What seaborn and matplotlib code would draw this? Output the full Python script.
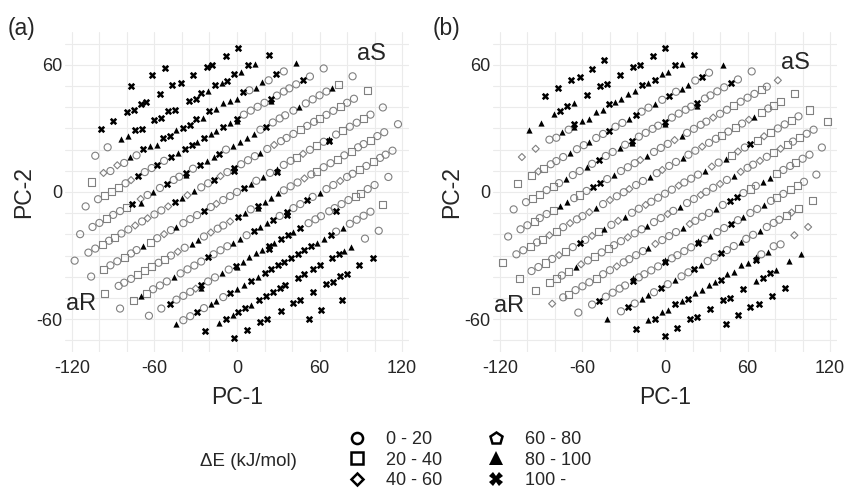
import matplotlib
matplotlib.use("Agg")
import matplotlib.pyplot as plt
from matplotlib.lines import Line2D
import seaborn as sns
import pandas as pd

# energy classes (kJ/mol); one-letter codes used in the de_* strings below
energy_bins = ["0 - 20", "20 - 40", "40 - 60", "60 - 80", "80 - 100", "100 -"]
bin_codes = "osdptx"   # o circle, s square, d diamond, p pentagon, t triangle, x cross

# ---------------- panel (a) ----------------
pc1_a = [
    -77, -62, -52,
    -99, -90, -80, -75, -70, -66, -56, -47, -41, -32, -22, -18, -8, 1,
    -103, -94, -84, -79, -74, -69, -60, -55, -50, -45, -35, -30, -26, -21, -16, -11, -7, -2, 3, 8, 13, 23,
    -106, -97, -92, -87, -82, -78, -73, -68, -63, -58, -54, -49, -44, -39, -34, -30, -25, -20, -15, -10,
    -5, 0, 4, 9, 14, 18, 23, 28, 34, 43,
    -110, -101, -96, -91, -86, -81, -77, -72, -67, -62, -58, -53, -48, -43, -38, -33, -29, -24, -19, -15,
    -10, -5, 0, 0, 5, 10, 15, 20, 25, 25, 29, 34, 38, 43, 48, 53, 63,
    -114, -105, -100, -95, -90, -85, -80, -76, -70, -70, -65, -61, -56, -51, -46, -42, -37, -37, -32, -27,
    -22, -17, -13, -8, -3, 2, 7, 12, 17, 21, 26, 31, 35, 41, 45, 50, 55, 60, 65, 69, 74, 84,
    -118, -108, -103, -98, -93, -89, -84, -79, -74, -69, -65, -60, -55, -50, -45, -40, -36, -31, -26, -21,
    -17, -12, -7, -2, -2, 3, 8, 13, 17, 22, 27, 32, 36, 41, 46, 51, 56, 60, 65, 70, 75, 80, 85, 95,
    -106, -97, -92, -87, -82, -77, -73, -68, -63, -58, -53, -48, -44, -39, -34, -29, -24, -19, -15, -10,
    -5, 0, 5, 10, 14, 19, 24, 29, 29, 34, 39, 43, 48, 53, 58, 63, 67, 67, 72, 77, 82, 87, 92, 97, 106,
    -96, -86, -82, -77, -72, -67, -62, -57, -53, -48, -43, -38, -33, -28, -24, -19, -14, -10, -5, 1,
    6, 10, 15, 15, 20, 25, 30, 34, 39, 44, 49, 54, 58, 63, 68, 73, 78, 83, 88, 92, 97, 102, 107, 117,
    -85, -75, -70, -66, -61, -56, -51, -46, -41, -36, -31, -26, -21, -17, -12, -7, -3, 2, 7, 12,
    17, 22, 26, 31, 36, 36, 41, 46, 51, 55, 60, 65, 70, 75, 80, 84, 89, 94, 99, 104, 108, 113,
    -64, -55, -49, -44, -39, -34, -30, -26, -26, -21, -16, -11, -6, -1, 0, 4, 9, 14, 18, 23,
    23, 27, 32, 37, 41, 46, 52, 57, 61, 67, 71, 72, 76, 81, 86, 90, 95, 100, 110,
    -44, -39, -34, -29, -24, -19, -15, -10, -5, 0, 5, 10, 15, 20, 25, 30, 34, 39, 44, 49,
    54, 58, 63, 68, 72, 77, 82, 87, 92, 97, 106,
    -23, -13, -8, -3, 1, 6, 10, 16, 21, 26, 31, 35, 44, 49, 55, 60, 69, 74, 78, 83, 93, 103,
    -2, 7, 17, 22, 32, 41, 46, 55, 65, 70, 75, 80, 89, 99,
    52, 61, 76,
]
pc2_a = [
    50.0, 55.0, 58.6,
    29.6, 33.6, 37.7, 38.5, 41.7, 42.6, 46.4, 50.3, 51.4, 55.2, 59.0, 60.1, 64.2, 68.1,
    17.1, 21.1, 25.0, 26.3, 29.1, 29.9, 33.8, 35.1, 38.0, 38.8, 42.8, 43.9, 46.9, 47.6, 50.6, 51.4, 52.5,
    55.5, 56.6, 59.7, 60.5, 64.5,
    4.7, 9.0, 9.9, 12.6, 13.7, 16.5, 17.3, 20.4, 21.5, 22.3, 25.5, 26.3, 29.4, 30.2, 31.4, 34.6, 35.1, 38.1,
    39.0, 42.1, 42.9, 44.0, 47.2, 48.0, 49.2, 51.9, 52.7, 55.8, 56.9, 60.8,
    -6.8, -3.4, -1.5, 0.4, 2.3, 4.1, 5.6, 7.5, 9.4, 11.3, 12.8, 14.7, 16.6, 18.4, 20.3, 22.2, 23.7, 25.6,
    27.5, 29.0, 30.8, 32.7, 34.6, 33.4, 36.5, 38.4, 40.2, 42.1, 44.0, 42.8, 45.5, 47.4, 48.9, 50.8, 52.7,
    54.5, 58.3,
    -19.9, -16.5, -14.6, -12.7, -10.8, -9.0, -7.1, -5.6, -3.3, -5.0, -1.4, 0.1, 1.9, 3.8, 5.7, 7.2, 9.1,
    7.8, 11.0, 12.8, 14.7, 16.6, 18.1, 20.0, 21.9, 23.8, 25.6, 27.5, 29.4, 30.9, 32.8, 34.7, 36.2, 38.4,
    39.9, 41.8, 43.7, 45.6, 47.4, 48.9, 50.8, 54.6,
    -32.4, -28.6, -26.7, -24.8, -23.0, -21.5, -19.6, -17.7, -15.8, -13.9, -12.4, -10.6, -8.7, -6.8, -4.9,
    -3.0, -1.5, 0.3, 2.2, 4.1, 5.6, 7.5, 9.4, 11.2, 9.8, 13.1, 15.0, 16.9, 18.4, 20.3, 22.2, 24.0, 25.5,
    27.4, 29.3, 31.2, 33.1, 34.6, 36.4, 38.3, 40.2, 42.1, 44.0, 47.7,
    -39.9, -36.5, -34.6, -32.7, -30.8, -29.0, -27.4, -25.6, -23.7, -21.8, -19.9, -18.0, -16.5, -14.7,
    -12.8, -10.9, -9.0, -7.1, -5.6, -3.8, -1.9, 0.0, 1.9, 3.8, 5.3, 7.1, 9.0, 10.9, 9.6, 12.8, 14.7, 16.2,
    18.0, 19.9, 21.8, 23.7, 25.2, 23.9, 27.1, 29.0, 30.8, 32.7, 34.6, 36.5, 39.9,
    -48.1, -44.3, -42.8, -41.0, -39.1, -37.2, -35.3, -33.4, -31.9, -30.0, -28.2, -26.3, -24.4, -22.5,
    -21.0, -19.1, -17.3, -15.8, -13.9, -11.6, -9.7, -8.2, -6.4, -7.4, -4.5, -2.6, -0.7, 0.8, 2.7, 4.5,
    6.4, 8.3, 9.8, 11.7, 13.6, 15.4, 17.3, 19.2, 21.1, 22.6, 24.5, 26.4, 28.2, 32.0,
    -55.0, -51.2, -49.3, -47.8, -45.9, -44.1, -42.2, -40.3, -38.4, -36.5, -34.7, -32.8, -30.9, -29.4,
    -27.5, -25.6, -24.1, -22.2, -20.4, -18.5, -16.6, -14.7, -13.2, -11.3, -9.5, -10.8, -7.6, -5.7, -3.8,
    -2.3, -0.4, 1.4, 3.3, 5.2, 7.1, 8.6, 10.5, 12.3, 14.2, 16.1, 17.6, 19.5,
    -58.4, -55.0, -52.7, -50.8, -49.0, -47.1, -45.6, -44.1, -45.3, -42.2, -40.3, -38.4, -36.6, -34.7,
    -35.6, -32.8, -30.9, -29.0, -27.5, -25.7, -27.0, -24.1, -22.3, -20.4, -18.9, -17.0, -14.7, -12.9,
    -11.4, -9.1, -7.6, -9.0, -5.7, -3.8, -2.0, -0.5, 1.4, 3.3, 7.1,
    -62.3, -60.5, -58.6, -56.7, -54.8, -53.0, -51.4, -49.6, -47.7, -45.8, -43.9, -42.0, -40.2, -38.3,
    -36.4, -34.5, -33.0, -31.1, -29.3, -27.4, -25.5, -24.0, -22.1, -20.2, -18.7, -16.8, -15.0, -13.1,
    -11.2, -9.3, -5.9,
    -65.6, -61.9, -60.0, -58.1, -56.6, -54.7, -53.2, -51.0, -49.1, -47.2, -45.3, -43.8, -40.5, -38.6,
    -36.3, -34.4, -31.1, -29.2, -27.7, -25.8, -22.0, -18.3,
    -68.7, -65.0, -61.3, -60.1, -56.1, -52.4, -51.1, -47.2, -43.6, -42.5, -39.8, -38.5, -34.6, -31.0,
    -59.7, -55.8, -50.8,
]
de_a = (
    "xxx"
    "xxxxxxxxxxxxxx"
    "oottxxxxxxxxxtxtxxtxtx"
    "sdodotoxttxxtxxxtxttttxottoxot"
    "oosssodxoo" "xoxtxxtxtt" "xtxtooooxt" "ooooxoo"
    "ooosoosx" "dtotoxoo" "xtoxttxo" "ttttoxoo" "ootoooot" "so"
    "ooososoodo" "doodxtdtoo" "xdoxxoooto" "dooosoosoo" "soos"
    "osoosootso" "dotoooxodo" "ooxtototxo" "osdosotxos" "oosoo"
    "sooosssoso" "dottodoodx" "toxttttooo" "dosoososoo" "sooo"
    "ostsoootoo" "ooxooottox" "ttxoxxooxo" "toodoososo" "oo"
    "ooxooodxto" "otoxtttttx" "xtxxtxoooo" "oxoossooo"
    "tooxottoxt" "txtxxxxxxx" "xttxotoooo" "s"
    "xtxtxxtxxx" "xxxxxxxxtt" "oo"
    "xxxxxxxxxxxxxx"
    "xxx"
)

# ---------------- panel (b) ----------------
pc1_b = [
    -87, -78, -68, -62, -53, -44,
    -99, -90, -81, -76, -71, -66, -57, -47, -42, -33, -23, -18, -9, 0,
    -104, -94, -84, -79, -75, -70, -66, -66, -60, -55, -50, -45, -41, -36, -32, -27, -22, -17, -12, -7,
    -2, 2, 7, 12, 21,
    -107, -97, -92, -88, -83, -79, -74, -69, -64, -59, -55, -50, -45, -41, -36, -31, -26, -21, -17, -12,
    -7, -2, 3, 8, 12, 17, 22, 27, 32, 42,
    -110, -101, -96, -91, -86, -81, -77, -72, -67, -62, -57, -53, -48, -43, -38, -33, -29, -24, -24, -19,
    -14, -9, -5, 0, 0, 5, 10, 15, 19, 23, 23, 29, 33, 38, 43, 48, 53, 63,
    -114, -105, -100, -95, -91, -86, -81, -76, -71, -66, -62, -57, -52, -47, -42, -37, -32, -27, -22, -18,
    -13, -8, -3, 2, 7, 12, 16, 21, 26, 30, 35, 40, 45, 50, 55, 60, 65, 70, 74, 82,
    -118, -108, -103, -98, -93, -89, -84, -79, -74, -69, -64, -60, -55, -50, -45, -40, -35, -30, -26, -21,
    -16, -11, -6, -2, 3, 8, 13, 17, 22, 27, 32, 37, 41, 46, 51, 56, 61, 65, 70, 75, 79, 84, 94,
    -106, -97, -92, -87, -82, -77, -72, -67, -62, -58, -53, -48, -44, -39, -34, -29, -24, -19, -14, -10,
    -5, 0, 5, 10, 14, 19, 24, 29, 34, 39, 44, 48, 53, 58, 62, 67, 72, 77, 82, 87, 92, 97, 105,
    118, 108, 103, 98, 93, 89, 84, 79, 74, 69, 64, 60, 55, 50, 45, 40, 35, 30, 26, 21,
    16, 11, 6, 2, -3, -8, -13, -17, -22, -27, -32, -37, -41, -46, -51, -56, -61, -65, -70, -75, -79, -84, -94,
    114, 105, 100, 95, 91, 86, 81, 76, 71, 66, 62, 57, 52, 47, 42, 37, 32, 27, 22, 18,
    13, 8, 3, -2, -7, -12, -16, -21, -26, -30, -35, -40, -45, -50, -55, -60, -65, -70, -74, -82,
    110, 101, 96, 91, 86, 81, 77, 72, 67, 62, 57, 53, 48, 43, 38, 33, 29, 24, 24, 19,
    14, 9, 5, 0, 0, -5, -10, -15, -19, -23, -23, -29, -33, -38, -43, -48, -53, -63,
    107, 97, 92, 88, 83, 79, 74, 69, 64, 59, 55, 50, 45, 41, 36, 31, 26, 21, 17, 12,
    7, 2, -3, -8, -12, -17, -22, -27, -32, -42,
    104, 94, 84, 79, 75, 70, 66, 66, 60, 55, 50, 45, 41, 36, 32, 27, 22, 17, 12, 7,
    2, -2, -7, -12, -21,
    99, 90, 81, 76, 71, 66, 57, 47, 42, 33, 23, 18, 9, 0,
    87, 78, 68, 62, 53, 44,
]
pc2_b = [
    45.1, 49.2, 53.0, 54.2, 58.2, 62.1,
    29.1, 32.5, 36.6, 38.0, 40.6, 42.0, 45.6, 49.8, 51.1, 55.0, 59.0, 60.1, 64.0, 68.1,
    16.5, 20.4, 24.7, 25.6, 28.3, 29.4, 32.2, 30.7, 33.5, 34.6, 37.7, 38.5, 41.4, 42.5, 43.7, 46.4, 47.6,
    50.3, 51.4, 52.7, 55.5, 56.6, 59.7, 60.5, 64.5,
    4.1, 7.8, 9.7, 11.2, 13.1, 14.6, 16.5, 18.4, 20.2, 22.1, 23.6, 25.5, 27.4, 28.9, 30.8, 32.6, 34.5,
    36.4, 37.9, 39.8, 41.7, 43.5, 45.4, 47.3, 48.8, 50.7, 52.6, 54.5, 56.3, 60.1,
    -8.2, -4.8, -2.9, -1.0, 0.9, 2.7, 4.2, 6.1, 8.0, 9.9, 11.8, 13.3, 15.2, 17.0, 18.9, 20.8, 22.3, 24.2,
    23.0, 26.1, 27.9, 29.8, 31.3, 33.2, 32.0, 35.1, 37.0, 38.8, 40.3, 41.9, 40.7, 44.1, 45.6, 47.5, 49.4,
    51.2, 53.1, 56.9,
    -21.0, -17.6, -15.7, -13.8, -12.3, -10.4, -8.6, -6.7, -4.8, -2.9, -1.4, 0.5, 2.3, 4.2, 6.1, 8.0, 9.9,
    11.7, 13.6, 15.1, 17.0, 18.9, 20.8, 22.7, 24.5, 26.4, 27.9, 29.8, 31.7, 33.2, 35.1, 36.9, 38.8, 40.7,
    42.6, 44.5, 46.3, 48.2, 49.7, 52.7,
    -33.2, -29.4, -27.5, -25.6, -23.8, -22.3, -20.4, -18.5, -16.6, -14.7, -12.9, -11.4, -9.5, -7.6, -5.7,
    -3.8, -2.0, -0.1, 1.4, 3.3, 5.2, 7.1, 8.9, 10.4, 12.3, 14.2, 16.1, 17.6, 19.5, 21.4, 23.2, 25.1, 26.6,
    28.5, 30.4, 32.3, 34.1, 35.6, 37.5, 39.4, 40.9, 42.8, 46.5,
    -40.7, -37.3, -35.4, -33.5, -31.6, -29.8, -27.9, -26.0, -24.1, -22.6, -20.7, -18.8, -17.3, -15.5,
    -13.6, -11.7, -9.8, -7.9, -6.1, -4.6, -2.7, -0.8, 1.1, 3.0, 4.5, 6.3, 8.2, 10.1, 12.0, 13.9, 15.7,
    17.2, 19.1, 21.0, 22.5, 24.4, 26.3, 28.2, 30.0, 31.9, 33.8, 35.7, 38.7,
    33.2, 29.4, 27.5, 25.6, 23.8, 22.3, 20.4, 18.5, 16.6, 14.7, 12.9, 11.4, 9.5, 7.6, 5.7, 3.8, 2.0, 0.1,
    -1.4, -3.3, -5.2, -7.1, -8.9, -10.4, -12.3, -14.2, -16.1, -17.6, -19.5, -21.4, -23.2, -25.1, -26.6,
    -28.5, -30.4, -32.3, -34.1, -35.6, -37.5, -39.4, -40.9, -42.8, -46.5,
    21.0, 17.6, 15.7, 13.8, 12.3, 10.4, 8.6, 6.7, 4.8, 2.9, 1.4, -0.5, -2.3, -4.2, -6.1, -8.0, -9.9,
    -11.7, -13.6, -15.1, -17.0, -18.9, -20.8, -22.7, -24.5, -26.4, -27.9, -29.8, -31.7, -33.2, -35.1,
    -36.9, -38.8, -40.7, -42.6, -44.5, -46.3, -48.2, -49.7, -52.7,
    8.2, 4.8, 2.9, 1.0, -0.9, -2.7, -4.2, -6.1, -8.0, -9.9, -11.8, -13.3, -15.2, -17.0, -18.9, -20.8,
    -22.3, -24.2, -23.0, -26.1, -27.9, -29.8, -31.3, -33.2, -32.0, -35.1, -37.0, -38.8, -40.3, -41.9,
    -40.7, -44.1, -45.6, -47.5, -49.4, -51.2, -53.1, -56.9,
    -4.1, -7.8, -9.7, -11.2, -13.1, -14.6, -16.5, -18.4, -20.2, -22.1, -23.6, -25.5, -27.4, -28.9, -30.8,
    -32.6, -34.5, -36.4, -37.9, -39.8, -41.7, -43.5, -45.4, -47.3, -48.8, -50.7, -52.6, -54.5, -56.3,
    -60.1,
    -16.5, -20.4, -24.7, -25.6, -28.3, -29.4, -32.2, -30.7, -33.5, -34.6, -37.7, -38.5, -41.4, -42.5,
    -43.7, -46.4, -47.6, -50.3, -51.4, -52.7, -55.5, -56.6, -59.7, -60.5, -64.5,
    -29.1, -32.5, -36.6, -38.0, -40.6, -42.0, -45.6, -49.8, -51.1, -55.0, -59.0, -60.1, -64.0, -68.1,
    -45.1, -49.2, -53.0, -54.2, -58.2, -62.1,
]
de_b = (
    "xxxxxx"
    "tttxxtxxxxxxxx"
    "ddootoxttt" "ttxttttxtx" "ttxtx"
    "ssdsoootoo" "tooxootxoo" "toxottoxot"
    "oossosotoo" "toxootoxto" "oooxtoooox" "tooooxoo"
    "ooosoostto" "soxxotoood" "tooodtoooo" "doosooosod"
    "soososdsod" "oodtodoodo" "otodootood" "oososodtso" "sss"
    "soosodsoxo" "dstodtoodo" "ooodoootdo" "tsdoxsdsoo" "sos"
    "soososdsod" "oodtodoodo" "otodootood" "oososodtso" "sss"
    "ooosoostto" "soxxotoood" "tooodtoooo" "doosooosod"
    "oossosotoo" "toxootoxto" "oooxtoooox" "tooooxoo"
    "ssdsoootoo" "tooxootxoo" "toxottoxot"
    "ddootoxttt" "ttxttttxtx" "ttxtx"
    "tttxxtxxxxxxxx"
    "xxxxxx"
)

sns.set_theme(style="white")
plt.rcParams["font.family"] = ["Liberation Sans", "DejaVu Sans"]

grey = "#808080"
point_style = {
    "0 - 20": dict(marker="o", s=26, facecolor="none", edgecolor=grey, linewidth=0.8),
    "20 - 40": dict(marker="s", s=26, facecolor="none", edgecolor=grey, linewidth=0.8),
    "40 - 60": dict(marker="D", s=13, facecolor="none", edgecolor=grey, linewidth=0.8),
    "60 - 80": dict(marker="p", s=26, facecolor="none", edgecolor=grey, linewidth=0.8),
    "80 - 100": dict(marker="^", s=20, color="black", linewidth=0),
    "100 -": dict(marker="X", s=28, color="black", linewidth=0),
}


def draw_panel(ax, pc1, pc2, codes, s_pos, r_pos):
    df = pd.DataFrame({"PC-1": pc1, "PC-2": pc2,
                       "dE": [energy_bins[bin_codes.index(c)] for c in codes]})
    for label in energy_bins:
        sub = df[df["dE"] == label]
        if len(sub):
            sns.scatterplot(data=sub, x="PC-1", y="PC-2", ax=ax, legend=False,
                            **point_style[label])

    ax.set_xlim(-125, 125)
    ax.set_ylim(-75.5, 75.5)
    xt = list(range(-120, 121, 20))
    yt = list(range(-70, 71, 10))
    ax.set_xticks(xt)
    ax.set_xticklabels([str(v) if v % 60 == 0 else "" for v in xt], fontsize=13)
    ax.set_yticks(yt)
    ax.set_yticklabels([str(v) if v % 60 == 0 else "" for v in yt], fontsize=13)
    ax.tick_params(axis="x", length=0, pad=6)
    ax.tick_params(axis="y", length=0, pad=2.2)
    ax.grid(True, color="#ebebeb", linewidth=0.8)
    ax.set_axisbelow(True)
    sns.despine(ax=ax, left=True, bottom=True)

    ax.set_xlabel("PC-1", fontsize=16.5)
    ax.set_ylabel("PC-2", fontsize=16.5)
    ax.xaxis.set_label_coords(0.5, -0.105)
    ax.yaxis.set_label_coords(-0.087, 0.5)

    ax.text(*s_pos, "aS", ha="center", va="center", fontsize=17)
    ax.text(*r_pos, "aR", ha="center", va="center", fontsize=17)


fig = plt.figure(figsize=(8.46, 4.95), dpi=100)
ax_a = fig.add_axes([65 / 846, 1 - 352 / 495, 344 / 846, 320 / 495])
ax_b = fig.add_axes([493 / 846, 1 - 352 / 495, 344 / 846, 320 / 495])

draw_panel(ax_a, pc1_a, pc2_a, de_a, (98, 65), (-113, -53))
draw_panel(ax_b, pc1_b, pc2_b, de_b, (95, 61), (-113, -54))

fig.text(8 / 846, 1 - 28 / 495, "(a)", fontsize=16.5, va="center", ha="left")
fig.text(433 / 846, 1 - 28 / 495, "(b)", fontsize=16.5, va="center", ha="left")

# legend along the bottom
legend_marks = [("o", "none", 8), ("s", "none", 8), ("D", "none", 6.5),
                ("p", "none", 9), ("^", "black", 10), ("X", "black", 10)]
handles = [Line2D([], [], ls="", marker=m, markersize=ms, markerfacecolor=fc,
                  markeredgecolor="black", markeredgewidth=1.8 if fc == "none" else 0)
           for m, fc, ms in legend_marks]
fig.legend(handles, energy_bins, ncol=2, loc="upper left",
           bbox_to_anchor=(348 / 846, 1 - 431 / 495), frameon=False, fontsize=13,
           handlelength=1.0, handletextpad=1.1, columnspacing=2.5,
           labelspacing=0.2, borderpad=0, borderaxespad=0)
fig.text(200 / 846, 1 - 462 / 495, "\u0394E (kJ/mol)", fontsize=13.5, va="center", ha="left")

fig.savefig("out.png", dpi=100)
